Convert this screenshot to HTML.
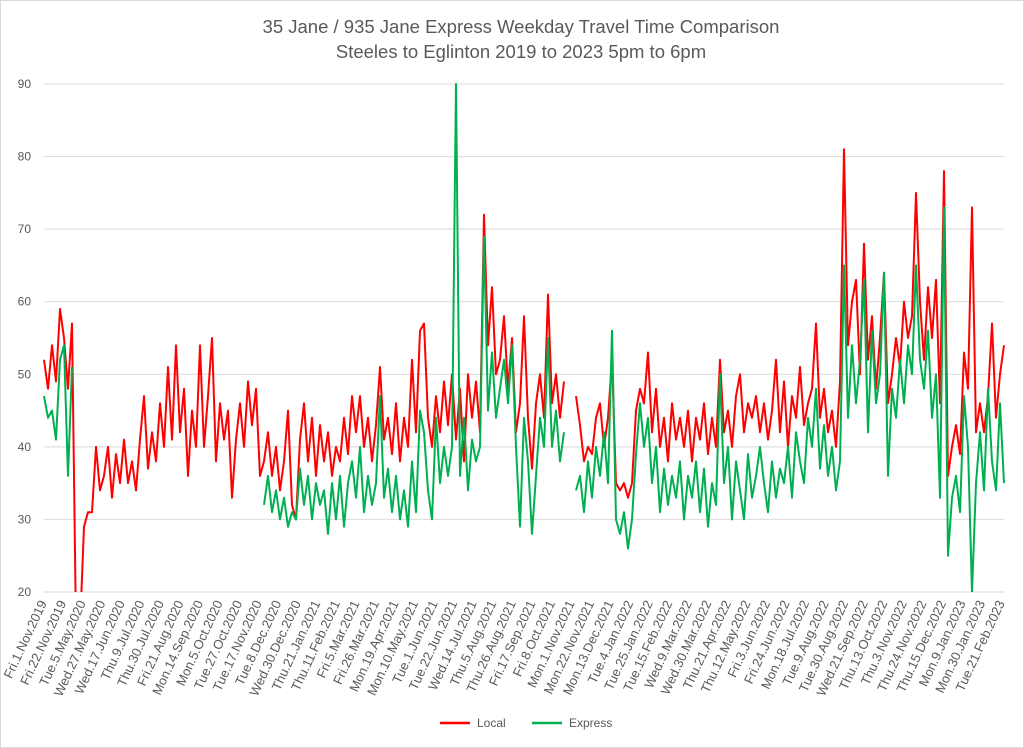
<!DOCTYPE html>
<html><head><meta charset="utf-8"><style>
body{margin:0;background:#fff;}
svg{display:block;font-family:"Liberation Sans",sans-serif;}
</style></head><body>
<svg id="chart" width="1024" height="748" viewBox="0 0 1024 748" xmlns="http://www.w3.org/2000/svg">
<rect x="0.5" y="0.5" width="1023" height="747" fill="#fff" stroke="#d9d9d9"/>
<text x="521" y="33" text-anchor="middle" font-size="18.5" fill="#595959">35 Jane / 935 Jane Express Weekday Travel Time Comparison</text>
<text x="521" y="58" text-anchor="middle" font-size="18.5" fill="#595959">Steeles to Eglinton 2019 to 2023 5pm to 6pm</text>
<defs><clipPath id="plotclip"><rect x="40" y="80" width="970" height="512"/></clipPath></defs>
<g id="grid"></g>
<g id="ylabels"></g>
<g id="xlabels"></g>
<g clip-path="url(#plotclip)" id="series"></g>
<g>
<line x1="440" y1="723" x2="470" y2="723" stroke="#ff0000" stroke-width="2.5"/>
<text x="477" y="727" font-size="12" fill="#595959">Local</text>
<line x1="532" y1="723" x2="562" y2="723" stroke="#00b050" stroke-width="2.5"/>
<text x="569" y="727" font-size="12" fill="#595959">Express</text>
</g>
</svg>
<script>
const yTicks=[20,30,40,50,60,70,80,90];
const xTickLabels=["Fri.1.Nov.2019","Fri.22.Nov.2019","Tue.5.May.2020","Wed.27.May.2020","Wed.17.Jun.2020","Thu.9.Jul.2020","Thu.30.Jul.2020","Fri.21.Aug.2020","Mon.14.Sep.2020","Mon.5.Oct.2020","Tue.27.Oct.2020","Tue.17.Nov.2020","Tue.8.Dec.2020","Wed.30.Dec.2020","Thu.21.Jan.2021","Thu.11.Feb.2021","Fri.5.Mar.2021","Fri.26.Mar.2021","Mon.19.Apr.2021","Mon.10.May.2021","Tue.1.Jun.2021","Tue.22.Jun.2021","Wed.14.Jul.2021","Thu.5.Aug.2021","Thu.26.Aug.2021","Fri.17.Sep.2021","Fri.8.Oct.2021","Mon.1.Nov.2021","Mon.22.Nov.2021","Mon.13.Dec.2021","Tue.4.Jan.2022","Tue.25.Jan.2022","Tue.15.Feb.2022","Wed.9.Mar.2022","Wed.30.Mar.2022","Thu.21.Apr.2022","Thu.12.May.2022","Fri.3.Jun.2022","Fri.24.Jun.2022","Mon.18.Jul.2022","Tue.9.Aug.2022","Tue.30.Aug.2022","Wed.21.Sep.2022","Thu.13.Oct.2022","Thu.3.Nov.2022","Thu.24.Nov.2022","Thu.15.Dec.2022","Mon.9.Jan.2023","Mon.30.Jan.2023","Tue.21.Feb.2023"];
const localTimes=[52,48,54,49,59,55,48,57,15,15,
29,31,31,40,34,36,40,33,39,35,
41,35,38,34,41,47,37,42,38,46,
40,51,41,54,42,48,36,45,40,54,
40,47,55,38,46,41,45,33,41,46,
40,49,43,48,36,38,42,36,40,34,
38,45,32,30,41,46,38,44,36,43,
38,42,36,40,38,44,39,47,42,47,
40,44,38,43,51,41,44,39,46,38,
44,40,52,42,56,57,44,40,47,42,
49,43,50,41,48,38,50,44,49,42,
72,54,62,50,52,58,48,55,42,46,
58,44,37,46,50,44,61,46,50,44,
49,null,null,47,43,38,40,39,44,46,
40,44,52,35,34,35,33,35,45,48,
46,53,42,48,40,44,38,46,41,44,
40,45,38,44,41,46,39,44,40,52,
42,45,40,47,50,42,46,44,47,42,
46,41,45,52,42,49,40,47,44,51,
43,46,48,57,44,48,42,45,40,49,
81,54,60,63,50,68,52,58,48,55,
64,46,50,55,51,60,55,58,75,60,
52,62,55,63,46,78,36,40,43,39,
53,48,73,42,46,42,47,57,44,50,54];
const expressTimes=[47,44,45,41,52,54,36,51,null,null,
null,null,null,null,null,null,null,null,null,null,
null,null,null,null,null,null,null,null,null,null,
null,null,null,null,null,null,null,null,null,null,
null,null,null,null,null,null,null,null,null,null,
null,null,null,null,null,32,36,31,34,30,
33,29,31,30,37,32,36,30,35,32,
34,28,35,30,36,29,35,38,33,40,
31,36,32,35,47,33,37,31,36,30,
34,29,38,31,45,42,34,30,44,35,
40,36,40,90,36,44,34,41,38,40,
69,45,53,44,48,52,46,54,40,29,
44,38,28,36,44,40,55,40,45,38,
42,null,null,34,36,31,38,33,40,36,
42,35,56,30,28,31,26,30,39,46,
40,44,35,40,31,37,32,36,33,38,
30,36,33,38,31,37,29,35,32,50,
35,40,30,38,34,30,39,33,36,40,
35,31,38,33,37,35,40,33,42,38,
35,44,40,48,37,43,36,40,34,38,
65,44,54,46,52,63,42,56,46,50,
64,36,48,44,52,46,54,50,65,52,
48,56,44,50,33,73,25,33,36,31,
47,40,20,35,42,34,48,38,34,46,35];

const NS="http://www.w3.org/2000/svg";
const X0=44,X1=1004,Y20=592,Y90=84;
function yScale(v){return Y20-(v-20)*(Y20-Y90)/70;}
function xScale(i,n){return X0+i*(X1-X0)/(n-1);}
function labelX(k){return 47+k*(1005-47)/(xTickLabels.length-1);}

const grid=document.getElementById('grid'),yl=document.getElementById('ylabels'),xl=document.getElementById('xlabels');
yTicks.forEach(t=>{
  const l=document.createElementNS(NS,'line');
  l.setAttribute('x1',X0);l.setAttribute('x2',X1);l.setAttribute('y1',yScale(t));l.setAttribute('y2',yScale(t));
  l.setAttribute('stroke','#d9d9d9');l.setAttribute('stroke-width','1');
  
  
  grid.appendChild(l);
  const tx=document.createElementNS(NS,'text');
  tx.setAttribute('x',31);tx.setAttribute('y',yScale(t)+4);tx.setAttribute('text-anchor','end');
  tx.setAttribute('font-size','12');tx.setAttribute('fill','#595959');tx.textContent=t;
  
  
  yl.appendChild(tx);
});
xTickLabels.forEach((s,k)=>{
  const tx=document.createElementNS(NS,'text');
  const x=labelX(k),y=603;
  tx.setAttribute('transform','translate('+x+','+y+') rotate(-65)');
  tx.setAttribute('text-anchor','end');tx.setAttribute('font-size','13');tx.setAttribute('fill','#595959');
  tx.textContent=s;
  
  
  xl.appendChild(tx);
});
function drawSeries(vals,color,name){
  let d='',pen=false;
  vals.forEach((v,i)=>{
    if(v===null){pen=false;return;}
    d+=(pen?'L':'M')+xScale(i,vals.length).toFixed(1)+','+yScale(v).toFixed(1);
    pen=true;
  });
  const p=document.createElementNS(NS,'path');
  p.setAttribute('d',d);p.setAttribute('fill','none');p.setAttribute('stroke',color);
  p.setAttribute('stroke-width','2');p.setAttribute('stroke-linejoin','round');
  
  
  document.getElementById('series').appendChild(p);
}
drawSeries(localTimes,'#ff0000','local-series-line');
drawSeries(expressTimes,'#00b050','express-series-line');
</script>
</body></html>
